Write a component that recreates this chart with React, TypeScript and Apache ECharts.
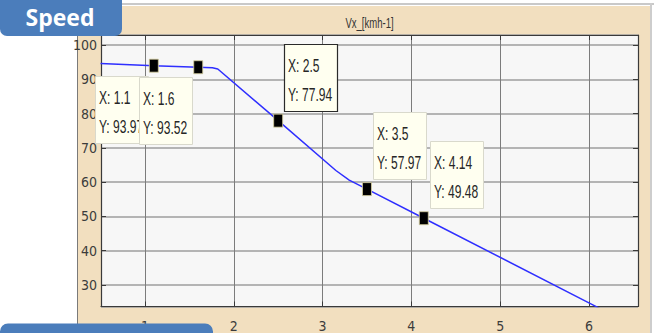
import React, { useEffect, useRef } from "react";
import * as echarts from "echarts";

// Vehicle speed trace (time vs Vx) and its data tips
const timeS = [0.5, 1.1, 1.6, 1.76, 1.82, 2.5, 3.15, 3.3, 3.5, 4.14, 6.12];
const speedKmh = [94.6, 93.97, 93.52, 93.35, 93.0, 77.94, 63.4, 60.6, 57.97, 49.48, 23.2];

const tipX = [1.1, 1.6, 2.5, 3.5, 4.14];
const tipY = [93.97, 93.52, 77.94, 57.97, 49.48];
const tipBelow = [true, true, false, false, false];
const tipActive = [false, false, true, false, false];

const xTicks = [1, 2, 3, 4, 5, 6];
const yTicks = [30, 40, 50, 60, 70, 80, 90, 100];

const X_MIN = 0.505;
const X_MAX = 6.552;
const Y_MIN = 23.73;
const Y_MAX = 102.92;

const NARROW = "'Liberation Sans Narrow', 'DejaVu Sans Condensed', 'Liberation Sans', sans-serif";

export default function App() {
  const ref = useRef<HTMLDivElement>(null);

  useEffect(() => {
    if (!ref.current) return;
    const chart = echarts.init(ref.current, undefined, { renderer: "svg" });

    const axisBase = {
      type: "value" as const,
      axisLine: { show: true, onZero: false, lineStyle: { color: "#3a3a3a", width: 1.2 } },
      axisTick: { show: true, inside: true, length: 5, lineStyle: { color: "#3a3a3a" } },
    };

    chart.setOption({
      animation: false,
      grid: {
        left: 101,
        top: 35,
        width: 537,
        height: 271.5,
        show: true,
        backgroundColor: "#f7f7f7",
        borderWidth: 0,
      },
      xAxis: [
        {
          ...axisBase,
          position: "bottom",
          min: X_MIN,
          max: X_MAX,
          splitNumber: 6,
          axisLabel: {
            margin: 12,
            fontSize: 14,
            fontFamily: NARROW,
            color: "#3c3c3c",
            formatter: (v: number) => (xTicks.includes(v) ? String(v) : ""),
          },
          splitLine: { show: true, lineStyle: { color: "#7c7c7c", width: 1 } },
        },
        {
          ...axisBase,
          position: "top",
          min: X_MIN,
          max: X_MAX,
          splitNumber: 6,
          axisLabel: { show: false },
          splitLine: { show: false },
        },
      ],
      yAxis: [
        {
          ...axisBase,
          position: "left",
          min: Y_MIN,
          max: Y_MAX,
          splitNumber: 8,
          axisLabel: {
            margin: 4,
            fontSize: 14,
            fontFamily: NARROW,
            color: "#3c3c3c",
            formatter: (v: number) => (yTicks.includes(v) ? String(v) : ""),
          },
          splitLine: { show: true, lineStyle: { color: "#9e9e9e", width: 1.6 } },
        },
        {
          ...axisBase,
          position: "right",
          min: Y_MIN,
          max: Y_MAX,
          splitNumber: 8,
          axisLabel: { show: false },
          splitLine: { show: false },
        },
      ],
      series: [
        {
          type: "line",
          data: timeS.map((t, i) => [t, speedKmh[i]]),
          showSymbol: false,
          clip: true,
          lineStyle: { color: "#2f2fff", width: 1.5 },
          z: 3,
        },
        {
          type: "scatter",
          data: tipX.map((t, i) => [t, tipY[i]]),
          symbol: "rect",
          symbolSize: [9, 13],
          itemStyle: { color: "#000000", opacity: 1, borderColor: "#d8d0a0", borderWidth: 0.8 },
          z: 5,
        },
      ],
    });

    const graphics: any[] = [
      // figure panel
      { type: "rect", z: -10, shape: { x: 78, y: 6, width: 572, height: 327 }, style: { fill: "#f2dfbf" } },
      { type: "rect", z: -10, shape: { x: 78, y: 3, width: 576, height: 2 }, style: { fill: "#c9c9c9" } },
      { type: "rect", z: -10, shape: { x: 650, y: 3, width: 2, height: 330 }, style: { fill: "#cdcdcd" } },
      { type: "rect", z: -10, shape: { x: 77, y: 6, width: 1, height: 327 }, style: { fill: "#7a7a7a" } },
      {
        type: "text",
        z: 10,
        x: 369.5,
        y: 23,
        scaleX: 0.68,
        style: {
          text: "Vx_[kmh-1]",
          x: 0,
          y: 0,
          align: "center",
          verticalAlign: "middle",
          font: "14px 'Liberation Sans', Arial, sans-serif",
          fill: "#333",
        },
      },
      // slide labels
      {
        type: "rect",
        z: 100,
        shape: { x: 0, y: 0, width: 122, height: 36, r: [0, 0, 7, 7] },
        style: { fill: "#4b7dbb" },
      },
      {
        type: "text",
        z: 101,
        x: 60,
        y: 17,
        style: {
          text: "Speed",
          x: 0,
          y: 0,
          align: "center",
          verticalAlign: "middle",
          font: "bold 23px 'Open Sans', 'Noto Sans', sans-serif",
          fill: "#ffffff",
        },
      },
      {
        type: "rect",
        z: 100,
        shape: { x: 0, y: 323.5, width: 213, height: 20, r: [8, 8, 0, 0] },
        style: { fill: "#4b7dbb" },
      },
    ];

    const tipW = 53;
    const tipH = 67;
    tipX.forEach((tx, i) => {
      const [px, py] = chart.convertToPixel({ xAxisIndex: 0, yAxisIndex: 0 }, [tx, tipY[i]]) as number[];
      const left = Math.round(tipBelow[i] ? px - 6 - tipW : px + 6);
      const top = Math.round(tipBelow[i] ? py + 10 : py - 10 - tipH);
      const z = 20 + i * 2;
      graphics.push({
        type: "rect",
        z,
        shape: { x: left + 0.5, y: top + 0.5, width: tipW, height: tipH },
        style: {
          fill: "#fffff0",
          stroke: tipActive[i] ? "#2a2a2a" : "#d9d9cc",
          lineWidth: tipActive[i] ? 1.2 : 1,
        },
      });
      const lines = [`X: ${tx}`, `Y: ${tipY[i].toFixed(2)}`];
      lines.forEach((txt, k) => {
        graphics.push({
          type: "text",
          z: z + 1,
          x: left + 4,
          y: top + (k === 0 ? 22 : 51),
          scaleX: 0.67,
          style: {
            text: txt,
            x: 0,
            y: 0,
            align: "left",
            verticalAlign: "middle",
            font: "18px 'Liberation Sans', Arial, sans-serif",
            fill: "#262626",
          },
        });
      });
    });

    chart.setOption({ graphic: graphics });

    return () => chart.dispose();
  }, []);

  return (
    <div
      ref={ref}
      style={{ position: "fixed", left: 0, top: 0, width: 654, height: 333, background: "#ffffff" }}
    />
  );
}
